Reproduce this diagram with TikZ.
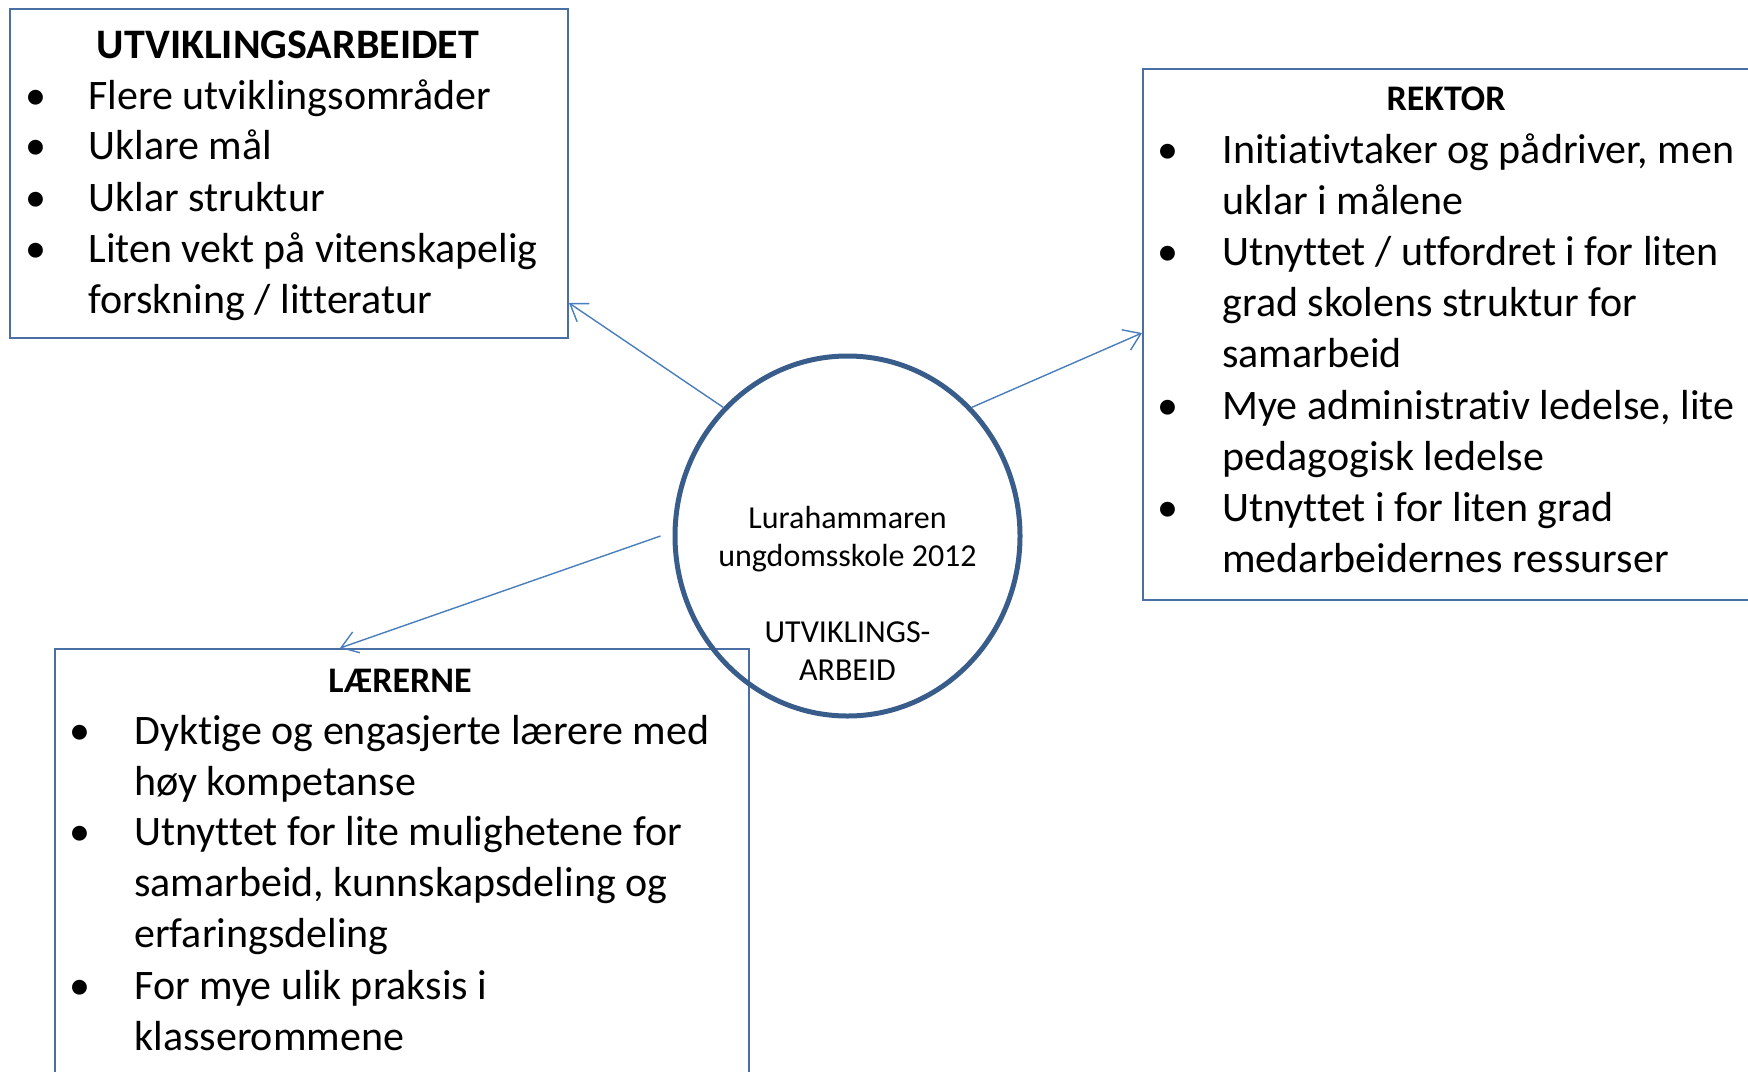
\documentclass[tikz,border=0pt]{standalone}
\usepackage{fontspec}
\setmainfont{Carlito}[Ligatures=NoCommon]
\usetikzlibrary{
    arrows.meta,
    shapes.geometric,
    calc,
    positioning
}

\definecolor{kant}{HTML}{4A6FA5}
\definecolor{ring}{HTML}{385D8A}
\definecolor{pilblaa}{HTML}{4A7EBB}

% linjer som henger fra forste grunnlinje
\newcommand{\linjer}[1]{\begin{tabular}[t]{@{}l@{}}#1\end{tabular}}

\tikzset{
    boks/.style={draw=kant, line width=1pt, rectangle, anchor=north west, inner sep=0pt},
    tittel/.style={anchor=base, inner sep=0pt, font=\bfseries\fontsize{18}{21}\selectfont},
    punkt/.style={anchor=base, inner sep=0pt, font=\fontsize{21}{25.5}\selectfont},
    tekst/.style={anchor=base west, inner sep=0pt, font=\fontsize{21}{25.5}\selectfont},
    pil/.style={draw=pilblaa, line width=0.7pt, -{Straight Barb[length=8pt, width=11pt]}}
}

\begin{document}
\begin{tikzpicture}[x=0.5pt, y=-0.5pt]
    \useasboundingbox (0,0) rectangle (1748,1071);
    \clip (0,0) rectangle (1748,1071);
    % boksene
    \node[boks, minimum width=279pt, minimum height=164.5pt] (utv) at (9,8) {};
    \node[boks, minimum width=305pt, minimum height=265.5pt] (rektor) at (1142,68) {};
    \node[boks, minimum width=347pt, minimum height=240pt] (laerer) at (54,648) {};
    \node[ellipse, draw=ring, line width=2.5pt, minimum width=172.5pt, minimum height=180pt, inner sep=0pt] (skole) at (847.5,536) {};

    % utviklingsarbeidet
    \node[tittel, font=\bfseries\fontsize{21}{25.5}\selectfont] (utv-t) at (288,58) {UTVIKLINGSARBEIDET};
    \node[punkt] (utv-p1) at (36,109) {\textbullet};
    \node[punkt] (utv-p2) at (36,159) {\textbullet};
    \node[punkt] (utv-p3) at (36,211) {\textbullet};
    \node[punkt] (utv-p4) at (36,262) {\textbullet};
    \node[tekst] (utv-1) at (88,109) {Flere utviklingsområder};
    \node[tekst] (utv-2) at (88,159) {Uklare mål};
    \node[tekst] (utv-3) at (88,211) {Uklar struktur};
    \node[tekst] (utv-4) at (88,262) {\linjer{Liten vekt på vitenskapelig\\forskning / litteratur}};

    % rektor
    \node[tittel] (rektor-t) at (1446,110) {REKTOR};
    \node[punkt] (rektor-p1) at (1168,163) {\textbullet};
    \node[punkt] (rektor-p2) at (1168,265) {\textbullet};
    \node[punkt] (rektor-p3) at (1168,419) {\textbullet};
    \node[punkt] (rektor-p4) at (1168,521) {\textbullet};
    \node[tekst] (rektor-1) at (1222,163) {\linjer{Initiativtaker og pådriver, men\\uklar i målene}};
    \node[tekst] (rektor-2) at (1222,265) {\linjer{Utnyttet / utfordret i for liten\\grad skolens struktur for\\samarbeid}};
    \node[tekst] (rektor-3) at (1222,419) {\linjer{Mye administrativ ledelse, lite\\pedagogisk ledelse}};
    \node[tekst] (rektor-4) at (1222,521) {\linjer{Utnyttet i for liten grad\\medarbeidernes ressurser}};

    % laererne
    \node[tittel] (laerer-t) at (400,692) {LÆRERNE};
    \node[punkt] (laerer-p1) at (80,744) {\textbullet};
    \node[punkt] (laerer-p2) at (80,845) {\textbullet};
    \node[punkt] (laerer-p3) at (80,999) {\textbullet};
    \node[tekst] (laerer-1) at (134,744) {\linjer{Dyktige og engasjerte lærere med\\høy kompetanse}};
    \node[tekst] (laerer-2) at (134,845) {\linjer{Utnyttet for lite mulighetene for\\samarbeid, kunnskapsdeling og\\erfaringsdeling}};
    \node[tekst] (laerer-3) at (134,999) {\linjer{For mye ulik praksis i\\klasserommene}};

    % midten
    \node[anchor=base, inner sep=0pt, font=\fontsize{16}{19}\selectfont] (skole-t) at (847.5,528)
        {\begin{tabular}[t]{@{}c@{}}Lurahammaren\\ungdomsskole 2012\\[19pt]UTVIKLINGS-\\ARBEID\end{tabular}};

    \draw[pil] (skole.134) -- ([yshift=18pt]utv.south east);
    \draw[pil] (skole.46) -- ([yshift=-132.5pt]rektor.north west);
    \draw[pil] ([xshift=-6pt]skole.west) -- ([xshift=143pt]laerer.north west);
\end{tikzpicture}
\end{document}
